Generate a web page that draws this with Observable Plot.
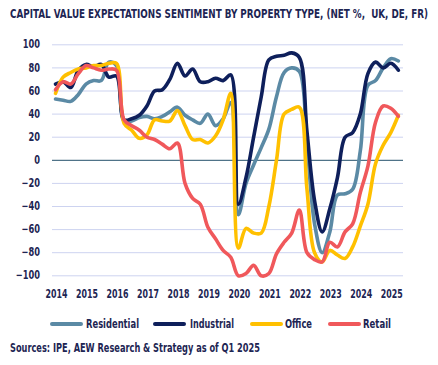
<!DOCTYPE html>
<html>
<head>
<meta charset="utf-8">
<script src="https://cdn.jsdelivr.net/npm/d3@7"></script>
<script src="https://cdn.jsdelivr.net/npm/@observablehq/plot@0.6"></script>
<style>
  html, body { margin: 0; padding: 0; background: #fff; }
  body { width: 438px; height: 365px; overflow: hidden; position: relative;
         font-family: "Liberation Sans Narrow", "DejaVu Sans Condensed", sans-serif; color: #1d2553; }
  #title { position: absolute; left: 10px; top: 7px; font-weight: bold; font-size: 12.5px;
           white-space: nowrap; transform-origin: 0 0; line-height: 14px; }
  #chart { position: absolute; left: 0; top: 28px; }
  #legend { position: absolute; left: 0; top: 316px; width: 438px; height: 16px; font-size: 12px; line-height: 16px; }
  .sw { position: absolute; top: 6px; height: 4px; border-radius: 2px; }
  .lab { position: absolute; top: 0; white-space: nowrap; transform-origin: 0 50%; font-weight: 600; }
  #caption { position: absolute; left: 10px; top: 340px; font-weight: bold; font-size: 12.5px; line-height: 16px;
             white-space: nowrap; transform-origin: 0 0; }
</style>
</head>
<body>
<div id="title">CAPITAL VALUE EXPECTATIONS SENTIMENT BY PROPERTY TYPE, (NET %,&nbsp; UK, DE, FR)</div>
<div id="chart"></div>
<div id="legend"></div>
<div id="caption">Sources: IPE, AEW Research &amp; Strategy as of Q1 2025</div>
<script>
// Quarterly data, 2014 Q1 .. 2025 Q2 (index 0..45)
const years = ["2014","2015","2016","2017","2018","2019","2020","2021","2022","2023","2024","2025"];
const seriesNames = ["Residential", "Industrial", "Office", "Retail"];
const seriesColors = ["#5b8aa5", "#0e1f5b", "#ffc000", "#f0585b"];

const residential = [53,52,51,57,66,69,69,85,82,34,34,37,38,36,38,42,46,39,35,32,40,30,36,50,-47,-20,-4,11,27,55,76,80,77,15,-55,-80,-62,-30,-29,-25,8,65,69,80,88,86];
const industrial  = [66,68,63,78,83,81,83,72,73,35,36,39,47,60,61,70,84,73,79,68,68,71,69,74,-38,-15,20,55,87,90,91,93,89,25,-35,-62,-42,-15,20,24,40,75,85,80,84,78];
const office      = [58,72,76,79,80,82,82,84,84,32,26,19,22,35,34,34,43,30,18,18,15,21,35,58,-76,-59,-63,-63,-40,0,40,44,46,-25,-80,-88,-78,-82,-85,-75,-57,-38,-3,13,24,39];
const retail      = [61,68,66,75,82,80,78,79,78,35,30,26,20,18,14,10,15,-20,-33,-38,-58,-68,-78,-84,-100,-98,-91,-100,-98,-81,-71,-63,-43,-80,-86,-88,-71,-75,-62,-55,-28,-5,33,47,45,38];

const yTicks = d3.range(-100, 101, 20);
const xTicks = years.map((y, k) => k * 4);

const seriesValues = [residential, industrial, office, retail];
const rows = seriesNames.map((name, s) => seriesValues[s].map((v, i) => ({i, value: v, series: name})));

const font = '"Liberation Sans Narrow", "DejaVu Sans Condensed", sans-serif';

const chart = Plot.plot({
  width: 438,
  height: 275,
  marginTop: 16.3,
  marginBottom: 27.7,
  marginLeft: 52,
  marginRight: 35,
  style: { fontFamily: font, fontSize: "12px", color: "#1d2553", fontWeight: "bold", background: "transparent" },
  x: { domain: [-0.394, 45.67] },
  y: { domain: [-100, 100] },
  color: { domain: seriesNames, range: seriesColors },
  marks: [
    Plot.gridY(yTicks.filter(d => d !== 0), { stroke: "#cdd3f0", strokeOpacity: 1, strokeWidth: 1 }),
    Plot.ruleY([0], { stroke: "#4f7388", strokeWidth: 1.2 }),
    Plot.axisY(yTicks, { tickSize: 0, tickPadding: 12.5, label: null, fill: "#1d2553", fontSize: 11.5 }),
    Plot.axisX(xTicks, { tickSize: 0, tickPadding: 13.5, label: null, tickFormat: d => years[d / 4], fill: "#1d2553", dx: 1, fontSize: 12.5 }),
    ...rows.map((r, s) => Plot.line(r, {
      x: "i", y: "value", stroke: seriesColors[s], strokeWidth: 3.6,
      curve: "catmull-rom", strokeLinejoin: "round", strokeLinecap: "round"
    }))
  ]
});
document.getElementById("chart").appendChild(chart);

// condense the tick labels horizontally (narrow typeface look)
function condense(sel, k) {
  chart.querySelectorAll(sel).forEach(el => {
    const len = el.getComputedTextLength();
    el.setAttribute("textLength", (len * k).toFixed(2));
    el.setAttribute("lengthAdjust", "spacingAndGlyphs");
  });
}
condense('g[aria-label="x-axis tick label"] text', 0.7);
condense('g[aria-label="y-axis tick label"] text', 0.8);

// legend
const legend = document.getElementById("legend");
const swX = [50, 153, 250, 328];
const labX = [86, 190, 285, 363];
const labW = [53, 44, 27, 28];
seriesNames.forEach((name, s) => {
  const sw = document.createElement("span");
  sw.className = "sw";
  sw.style.left = swX[s] + "px";
  sw.style.width = "33px";
  sw.style.background = seriesColors[s];
  const lab = document.createElement("span");
  lab.className = "lab";
  lab.style.left = labX[s] + "px";
  lab.textContent = name;
  legend.appendChild(sw); legend.appendChild(lab);
  const w = lab.getBoundingClientRect().width;
  lab.style.transform = `scaleX(${labW[s] / w})`;
});

// fit title and caption widths to the reference spans
function fit(id, target) {
  const el = document.getElementById(id);
  const w = el.getBoundingClientRect().width;
  el.style.transform = `scaleX(${target / w})`;
}
fit("title", 418);
fit("caption", 250);
</script>
</body>
</html>
